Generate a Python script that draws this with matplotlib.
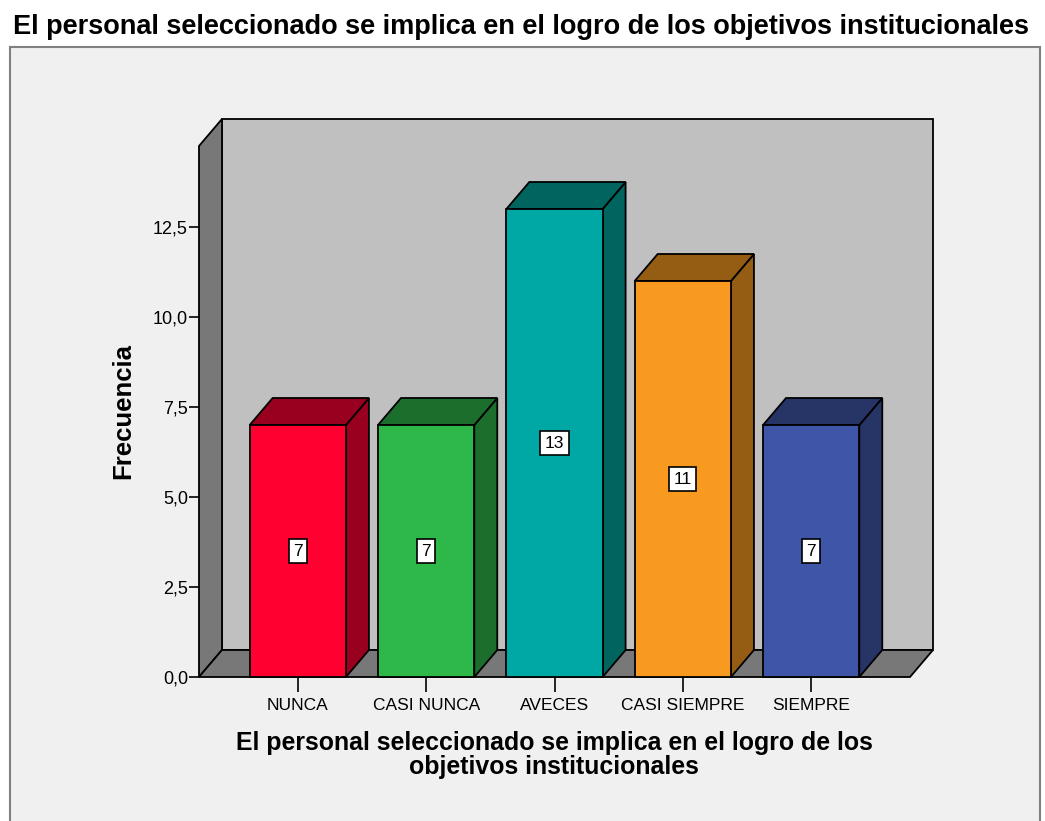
import matplotlib.pyplot as plt
from matplotlib.patches import Polygon, Rectangle

plt.rcParams["font.family"] = ["Liberation Sans", "DejaVu Sans"]

categorias = ["NUNCA", "CASI NUNCA", "AVECES", "CASI SIEMPRE", "SIEMPRE"]
frecuencias = [7, 7, 13, 11, 7]
colores_frente = ["#ff0030", "#2eb84a", "#00a8a5", "#f99a20", "#3f56a8"]
colores_lado = ["#990020", "#1c6e2d", "#00645f", "#955c13", "#263466"]
yticks = [0, 2.5, 5, 7.5, 10, 12.5]

titulo = "El personal seleccionado se implica en el logro de los objetivos institucionales"
xlabel = "El personal seleccionado se implica en el logro de los\nobjetivos institucionales"

W, H = 1045, 821
XMIN, XMAX = -0.77, 4.77
YMAX = 14.75
DX, DY = 0.179, 0.75   # profundidad 3D en unidades de datos
MEDIO = 0.375

fig = plt.figure(figsize=(W / 100, H / 100), dpi=100)
fig.patch.set_facecolor("white")
fig.add_artist(Rectangle((10 / W, -0.02), 1030 / W, 1 - 47 / H + 0.02,
                         transform=fig.transFigure, facecolor="#f0f0f0",
                         edgecolor="#808080", lw=1.5, zorder=0))

ax = fig.add_axes([199 / W, (H - 677) / H, (910 - 199) / W, (677 - 146) / H])
ax.set_xlim(XMIN, XMAX)
ax.set_ylim(0, YMAX)
ax.patch.set_visible(False)
for s in ax.spines.values():
    s.set_visible(False)

kw = dict(edgecolor="black", lw=1.3, clip_on=False, joinstyle="miter")
# pared del fondo, pared izquierda y piso
ax.add_patch(Polygon([(XMIN + DX, DY), (XMAX + DX, DY), (XMAX + DX, YMAX + DY),
                      (XMIN + DX, YMAX + DY)], facecolor="#c0c0c0", zorder=1, **kw))
ax.add_patch(Polygon([(XMIN, 0), (XMIN, YMAX), (XMIN + DX, YMAX + DY),
                      (XMIN + DX, DY)], facecolor="#787878", zorder=2, **kw))
ax.add_patch(Polygon([(XMIN, 0), (XMAX, 0), (XMAX + DX, DY),
                      (XMIN + DX, DY)], facecolor="#787878", zorder=2, **kw))

for i, (v, cf, cl) in enumerate(zip(frecuencias, colores_frente, colores_lado)):
    x0, x1 = i - MEDIO, i + MEDIO
    ax.add_patch(Polygon([(x1, 0), (x1 + DX, DY), (x1 + DX, v + DY), (x1, v)],
                         facecolor=cl, zorder=3, **kw))
    ax.add_patch(Polygon([(x0, v), (x1, v), (x1 + DX, v + DY), (x0 + DX, v + DY)],
                         facecolor=cl, zorder=3, **kw))
    ax.add_patch(Polygon([(x0, 0), (x1, 0), (x1, v), (x0, v)],
                         facecolor=cf, zorder=4, **kw))
    ax.text(i, v / 2, str(v), ha="center", va="center", fontsize=12.5, zorder=6,
            bbox=dict(boxstyle="square,pad=0.25", facecolor="white",
                      edgecolor="black", lw=1.2))

ax.set_yticks(yticks)
ax.set_yticklabels([f"{t:.1f}".replace(".", ",") for t in yticks])
ax.set_xticks(range(len(categorias)))
ax.set_xticklabels(categorias)
ax.tick_params(axis="y", length=7, width=1.2, labelsize=13, pad=1)
ax.tick_params(axis="x", length=11, width=1.2, labelsize=12.5, pad=4)

fig.text(521 / W, 1 - 27 / H, titulo, ha="center", va="center",
         fontsize=19.5, fontweight="bold")
fig.text(123 / W, 1 - 411 / H, "Frecuencia", ha="center", va="center",
         rotation=90, fontsize=18.5, fontweight="bold")
fig.text(554 / W, 1 - 755 / H, xlabel, ha="center", va="center",
         fontsize=17.9, fontweight="bold", linespacing=1.05)

fig.savefig("out.png", dpi=100)
